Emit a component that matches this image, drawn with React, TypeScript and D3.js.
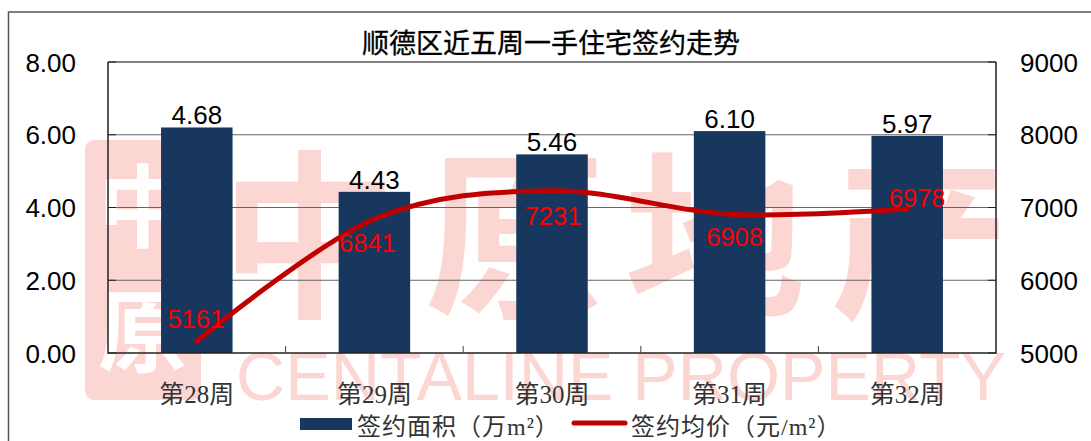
import React, { useEffect, useRef } from 'react';
import * as d3 from 'd3';

const weeks = ['第28周', '第29周', '第30周', '第31周', '第32周'];
// first bar is drawn taller in the source than its 4.68 label says
const areaBars = [6.2, 4.43, 5.46, 6.1, 5.97];
const areaLabels = ['4.68', '4.43', '5.46', '6.10', '5.97'];
const prices = [5161, 6841, 7231, 6908, 6978];
const leftTicks = [0, 2, 4, 6, 8];
const rightTicks = [5000, 6000, 7000, 8000, 9000];
const title = '顺德区近五周一手住宅签约走势';
const legendBar = '签约面积（万m²）';
const legendLine = '签约均价（元/m²）';
const watermarkChars = ['中', '原', '地', '产'];
const watermarkEn = 'CENTALINE PROPERTY';

const SANS = '"Liberation Sans", Arial, sans-serif';
const CJK = '"Noto Sans CJK SC", sans-serif';
const SERIF = '"Liberation Serif", "Noto Sans CJK SC", serif';
const WATERMARK = '#fbd6d2';
const NAVY = '#17375e';
const RED = '#c00000';

const App: React.FC = () => {
  const svgRef = useRef<SVGSVGElement | null>(null);

  useEffect(() => {
    if (!svgRef.current) return;
    const svg = d3.select(svgRef.current);
    svg.selectAll('*').remove();

    const left = 108;
    const right = 996;
    const top = 62;
    const bottom = 353;

    const x = d3.scaleBand().domain(weeks).range([left, right]);
    const yLeft = d3.scaleLinear().domain([0, 8]).range([bottom, top]);
    const yRight = d3.scaleLinear().domain([5000, 9000]).range([bottom, top]);
    const cx = (w: string) => (x(w) || 0) + x.bandwidth() / 2;

    svg.append('rect').attr('width', 1091).attr('height', 441).attr('fill', '#fff');
    svg.append('path')
      .attr('d', 'M8.5 441V12H1091')
      .attr('fill', 'none')
      .attr('stroke', '#555')
      .attr('stroke-width', 1.5);

    // Watermark
    const wm = svg.append('g');
    wm.append('rect')
      .attr('x', 85).attr('y', 140).attr('width', 116).attr('height', 260).attr('rx', 9)
      .attr('fill', WATERMARK);
    wm.append('text')
      .attr('x', 143).attr('y', 240).attr('text-anchor', 'middle')
      .attr('font-family', CJK).attr('font-size', 90).attr('font-weight', 700)
      .attr('fill', '#fff').text('中');
    wm.append('text')
      .attr('x', 143).attr('y', 365).attr('text-anchor', 'middle')
      .attr('font-family', CJK).attr('font-size', 90).attr('font-weight', 700)
      .attr('fill', '#fff').text('原');
    const wmCenters = [310, 515, 715, 920];
    watermarkChars.forEach((c, i) => {
      wm.append('text')
        .attr('x', wmCenters[i]).attr('y', 303).attr('text-anchor', 'middle')
        .attr('font-family', CJK).attr('font-size', 180).attr('font-weight', 700)
        .attr('fill', WATERMARK).text(c);
    });
    wm.append('text')
      .attr('x', 236).attr('y', 400)
      .attr('textLength', 770).attr('lengthAdjust', 'spacingAndGlyphs')
      .attr('font-family', SANS).attr('font-size', 68)
      .attr('fill', WATERMARK).text(watermarkEn);

    // Gridlines
    svg.append('g')
      .selectAll('line')
      .data(leftTicks.filter(d => d > 0))
      .enter()
      .append('line')
      .attr('x1', left).attr('x2', right)
      .attr('y1', d => yLeft(d)).attr('y2', d => yLeft(d))
      .attr('stroke', d => (d === 8 ? '#808080' : '#666'))
      .attr('stroke-width', d => (d === 8 ? 1.8 : 1));

    // Bars
    const barWidth = 71.5;
    svg.append('g')
      .selectAll('rect')
      .data(weeks)
      .enter()
      .append('rect')
      .attr('x', d => cx(d) - barWidth / 2)
      .attr('y', (_, i) => yLeft(areaBars[i]))
      .attr('width', barWidth)
      .attr('height', (_, i) => bottom - yLeft(areaBars[i]))
      .attr('fill', NAVY);

    // Axis frame and ticks
    svg.append('path')
      .attr('d', `M${left} ${top}V${bottom}H${right}V${top}`)
      .attr('fill', 'none')
      .attr('stroke', '#222')
      .attr('stroke-width', 1.5);
    x.domain().slice(1).forEach(d => {
      const tx = x(d) || 0;
      svg.append('line')
        .attr('x1', tx).attr('x2', tx).attr('y1', bottom - 7).attr('y2', bottom)
        .attr('stroke', '#444');
    });
    leftTicks.forEach(d => {
      svg.append('line')
        .attr('x1', left).attr('x2', left + 8)
        .attr('y1', yLeft(d)).attr('y2', yLeft(d)).attr('stroke', '#222');
    });
    rightTicks.forEach(d => {
      svg.append('line')
        .attr('x1', right - 8).attr('x2', right)
        .attr('y1', yRight(d)).attr('y2', yRight(d)).attr('stroke', '#222');
    });

    // Axis labels
    svg.append('g')
      .selectAll('text')
      .data(leftTicks)
      .enter()
      .append('text')
      .attr('x', 76).attr('y', d => yLeft(d) + 9.5)
      .attr('text-anchor', 'end')
      .attr('font-family', SANS).attr('font-size', 26).attr('fill', '#000')
      .text(d => d.toFixed(2));
    svg.append('g')
      .selectAll('text')
      .data(rightTicks)
      .enter()
      .append('text')
      .attr('x', 1020).attr('y', d => yRight(d) + 9.5)
      .attr('font-family', SANS).attr('font-size', 26).attr('fill', '#000')
      .text(d => d);
    svg.append('g')
      .selectAll('text')
      .data(weeks)
      .enter()
      .append('text')
      .attr('x', d => cx(d))
      .attr('y', 403)
      .attr('text-anchor', 'middle')
      .attr('font-family', SERIF).attr('font-size', 25).attr('fill', '#333')
      .text(d => d);

    // Price line
    const line = d3.line<number>()
      .x((_, i) => cx(weeks[i]))
      .y(d => yRight(d))
      .curve(d3.curveCardinal.tension(0));
    svg.append('path')
      .datum(prices)
      .attr('d', line)
      .attr('fill', 'none')
      .attr('stroke', RED)
      .attr('stroke-width', 5)
      .attr('stroke-linecap', 'round');

    // Value labels
    svg.append('g')
      .selectAll('text')
      .data(areaLabels)
      .enter()
      .append('text')
      .attr('x', (_, i) => cx(weeks[i]))
      .attr('y', (_, i) => yLeft(areaBars[i]) - 3)
      .attr('text-anchor', 'middle')
      .attr('font-family', SANS).attr('font-size', 26).attr('fill', '#000')
      .text(d => d);
    const priceDx = [-1, -7, 1, 5, 10];
    const priceDy = [-13, 33, 34, 32, -2];
    svg.append('g')
      .selectAll('text')
      .data(prices)
      .enter()
      .append('text')
      .attr('x', (_, i) => cx(weeks[i]) + priceDx[i])
      .attr('y', (d, i) => yRight(d) + priceDy[i])
      .attr('text-anchor', 'middle')
      .attr('font-family', SANS).attr('font-size', 25.5).attr('fill', '#ff0000')
      .text(d => d);

    // Title
    svg.append('text')
      .attr('x', 551).attr('y', 53).attr('text-anchor', 'middle')
      .attr('font-family', CJK).attr('font-size', 27).attr('fill', '#000')
      .attr('stroke', '#000').attr('stroke-width', 0.3)
      .text(title);

    // Legend
    svg.append('rect')
      .attr('x', 300).attr('y', 418).attr('width', 52).attr('height', 12)
      .attr('fill', NAVY);
    svg.append('text')
      .attr('x', 357).attr('y', 435)
      .attr('font-family', SERIF).attr('font-size', 24).attr('letter-spacing', 1).attr('fill', '#333')
      .text(legendBar);
    svg.append('line')
      .attr('x1', 574).attr('x2', 625).attr('y1', 423).attr('y2', 423)
      .attr('stroke', RED).attr('stroke-width', 5).attr('stroke-linecap', 'round');
    svg.append('text')
      .attr('x', 631).attr('y', 435)
      .attr('font-family', SERIF).attr('font-size', 24).attr('letter-spacing', 1).attr('fill', '#333')
      .text(legendLine);
  }, []);

  return <svg ref={svgRef} width={1091} height={441} style={{ position: 'absolute', left: 0, top: 0, display: 'block' }} />;
};

export default App;
